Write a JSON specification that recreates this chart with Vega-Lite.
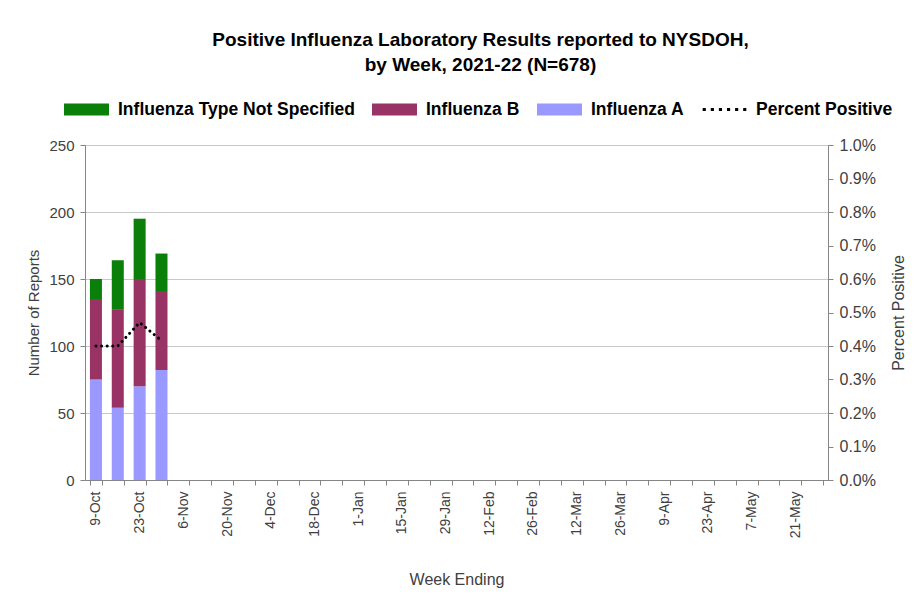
{
  "$schema": "https://vega.github.io/schema/vega-lite/v6.json",
  "width": 743,
  "height": 335,
  "autosize": "none",
  "padding": {"left": 85, "top": 145, "right": 86, "bottom": 135},
  "background": "white",
  "title": {
    "text": ["Positive Influenza Laboratory Results reported to NYSDOH,", "by Week, 2021-22 (N=678)"],
    "font": "Liberation Sans",
    "fontSize": 19,
    "fontWeight": "bold",
    "color": "#000000",
    "anchor": "middle",
    "frame": "group",
    "dx": 24,
    "lineHeight": 25,
    "offset": 12
  },
  "datasets": {
    "bars": [
      {"week": "9-Oct", "series": "Influenza A", "reports": 75},
      {"week": "9-Oct", "series": "Influenza B", "reports": 60},
      {"week": "9-Oct", "series": "Influenza Type Not Specified", "reports": 15},
      {"week": "16-Oct", "series": "Influenza A", "reports": 54},
      {"week": "16-Oct", "series": "Influenza B", "reports": 73},
      {"week": "16-Oct", "series": "Influenza Type Not Specified", "reports": 37},
      {"week": "23-Oct", "series": "Influenza A", "reports": 70},
      {"week": "23-Oct", "series": "Influenza B", "reports": 80},
      {"week": "23-Oct", "series": "Influenza Type Not Specified", "reports": 45},
      {"week": "30-Oct", "series": "Influenza A", "reports": 82},
      {"week": "30-Oct", "series": "Influenza B", "reports": 59},
      {"week": "30-Oct", "series": "Influenza Type Not Specified", "reports": 28}
    ],
    "pct": [
      {"week": "9-Oct", "percent": 0.0040},
      {"week": "16-Oct", "percent": 0.0040},
      {"week": "23-Oct", "percent": 0.0047},
      {"week": "30-Oct", "percent": 0.00416}
    ]
  },
  "layer": [
    {
      "data": {"name": "bars"},
      "mark": {"type": "bar"},
      "encoding": {
        "x": {
          "field": "week",
          "type": "nominal",
          "scale": {
            "domain": ["9-Oct","16-Oct","23-Oct","30-Oct","6-Nov","13-Nov","20-Nov","27-Nov","4-Dec","11-Dec","18-Dec","25-Dec","1-Jan","8-Jan","15-Jan","22-Jan","29-Jan","5-Feb","12-Feb","19-Feb","26-Feb","5-Mar","12-Mar","19-Mar","26-Mar","2-Apr","9-Apr","16-Apr","23-Apr","30-Apr","7-May","14-May","21-May","28-May"],
            "paddingInner": 0.45,
            "paddingOuter": 0.225
          },
          "axis": {
            "title": "Week Ending",
            "titleFont": "Liberation Sans",
            "titleFontSize": 16,
            "titleFontWeight": "normal",
            "titleColor": "#404040",
            "titlePadding": 34,
            "labelAngle": -90,
            "labelFont": "Liberation Sans",
            "labelFontSize": 14,
            "labelColor": "#404040",
            "labelPadding": 6,
            "labelExpr": "indexof(['9-Oct','23-Oct','6-Nov','20-Nov','4-Dec','18-Dec','1-Jan','15-Jan','29-Jan','12-Feb','26-Feb','12-Mar','26-Mar','9-Apr','23-Apr','7-May','21-May'], datum.value) >= 0 ? datum.value : ''",
            "tickBand": "extent",
            "ticks": true,
            "tickSize": 5,
            "tickColor": "#868686",
            "domainColor": "#868686",
            "grid": false
          }
        },
        "y": {
          "field": "reports",
          "type": "quantitative",
          "aggregate": "sum",
          "stack": "zero",
          "scale": {"domain": [0, 250]},
          "axis": {
            "title": "Number of Reports",
            "values": [0, 50, 100, 150, 200, 250],
            "titleFont": "Liberation Sans",
            "titleFontSize": 15,
            "titleFontWeight": "normal",
            "titleColor": "#404040",
            "titlePadding": 7,
            "labelFont": "Liberation Sans",
            "labelFontSize": 15,
            "labelColor": "#404040",
            "labelPadding": 6,
            "tickSize": 5,
            "tickColor": "#868686",
            "domainColor": "#868686",
            "gridColor": "#c8c8c8"
          }
        },
        "color": {
          "field": "series",
          "type": "nominal",
          "scale": {
            "domain": ["Influenza Type Not Specified", "Influenza B", "Influenza A", "Percent Positive"],
            "range": ["#0a800a", "#993366", "#9999ff", "#000000"]
          },
          "legend": {
            "title": null,
            "orient": "none",
            "legendX": -21,
            "legendY": -58,
            "direction": "horizontal",
            "symbolSize": 2025,
            "labelFont": "Liberation Sans",
            "labelFontSize": 17.5,
            "labelFontWeight": "bold",
            "labelColor": "#000000",
            "labelOffset": 9,
            "columnPadding": 17,
            "labelLimit": 400,
            "encode": {
              "symbols": {
                "update": {
                  "shape": {"signal": "datum.value === 'Percent Positive' ? 'M-0.97,-0.07h0.14v0.14h-0.14Z M-0.61,-0.07h0.14v0.14h-0.14Z M-0.25,-0.07h0.14v0.14h-0.14Z M0.11,-0.07h0.14v0.14h-0.14Z M0.47,-0.07h0.14v0.14h-0.14Z M0.83,-0.07h0.14v0.14h-0.14Z' : 'M-1,-0.27H1V0.27H-1Z'"},
                  "strokeWidth": {"value": 0},
                  "opacity": {"value": 1}
                }
              }
            }
          }
        },
        "order": {"field": "series", "sort": "ascending"}
      }
    },
    {
      "data": {"name": "pct"},
      "mark": {"type": "line", "color": "#000000", "strokeWidth": 3, "strokeDash": [0.1, 5.5], "strokeCap": "round"},
      "encoding": {
        "x": {"field": "week", "type": "nominal"},
        "y": {
          "field": "percent",
          "type": "quantitative",
          "scale": {"domain": [0, 0.01]},
          "axis": {
            "orient": "right",
            "title": "Percent Positive",
            "format": ".1%",
            "values": [0, 0.001, 0.002, 0.003, 0.004, 0.005, 0.006, 0.007, 0.008, 0.009, 0.01],
            "titleFont": "Liberation Sans",
            "titleFontSize": 16,
            "titleFontWeight": "normal",
            "titleColor": "#404040",
            "titleAngle": -90,
            "titlePadding": 31,
            "labelFont": "Liberation Sans",
            "labelFontSize": 16,
            "labelColor": "#404040",
            "labelPadding": 6,
            "tickSize": 5,
            "tickColor": "#868686",
            "domainColor": "#868686",
            "grid": false
          }
        }
      }
    }
  ],
  "resolve": {"scale": {"y": "independent"}},
  "config": {
    "view": {"stroke": "#868686", "strokeWidth": 1}
  }
}
